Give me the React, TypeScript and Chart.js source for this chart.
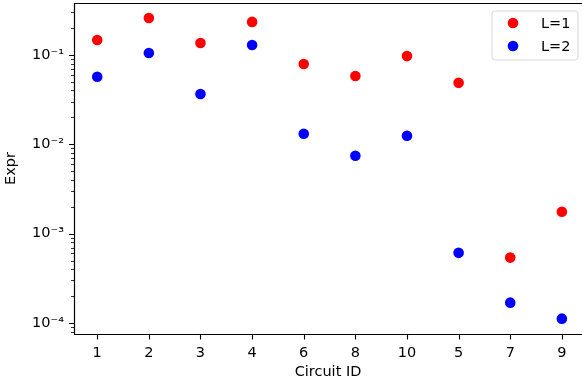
import React, { useEffect, useRef } from "react";
import { Chart, registerables } from "chart.js";

Chart.register(...registerables);

const categories = ["1", "2", "3", "4", "6", "8", "10", "5", "7", "9"];
const l1Values = [0.147, 0.259, 0.136, 0.234, 0.079, 0.058, 0.097, 0.0487, 0.00054, 0.00176];
const l2Values = [0.057, 0.105, 0.0366, 0.129, 0.0131, 0.00745, 0.01245, 0.00061, 0.000169, 0.000112];
const seriesLabels = ["L=1", "L=2"];
const yTickValues = [1e-4, 1e-3, 1e-2, 1e-1];
const yTickLabels = ["10⁻⁴", "10⁻³", "10⁻²", "10⁻¹"];
const xTitle = "Circuit ID";
const yTitle = "Expr";
const xMin = -0.45;
const xMax = 9.39; // the reference is cropped just before its right spine (at 9.45)
const yMin = 7.54e-5;
const yMax = 0.381;

const FONT = "DejaVu Sans";
const FS = 14.5;
const W = 582;
const H = 387;

const zeroPad = () => ({ left: 0, top: 0, right: 0, bottom: 0 });

const framePlugin = {
  id: "frame",
  afterDraw(chart: any) {
    const { ctx, chartArea: a, scales } = chart;
    const x = scales.x;
    const y = scales.y;
    ctx.save();
    ctx.strokeStyle = "#000";
    ctx.lineWidth = 1.2;
    ctx.beginPath();
    ctx.moveTo(W, a.top + 0.5);
    ctx.lineTo(a.left + 0.5, a.top + 0.5);
    ctx.lineTo(a.left + 0.5, a.bottom + 0.5);
    ctx.lineTo(W, a.bottom + 0.5);
    ctx.stroke();
    // x ticks
    ctx.lineWidth = 1.1;
    ctx.beginPath();
    categories.forEach((_, i) => {
      const px = Math.round(x.getPixelForValue(i)) + 0.5;
      ctx.moveTo(px, a.bottom);
      ctx.lineTo(px, a.bottom + 5.5);
    });
    ctx.stroke();
    // y major ticks
    ctx.beginPath();
    yTickValues.forEach((v) => {
      const py = Math.round(y.getPixelForValue(v)) + 0.5;
      ctx.moveTo(a.left, py);
      ctx.lineTo(a.left - 5, py);
    });
    ctx.stroke();
    // y minor ticks
    ctx.lineWidth = 0.8;
    ctx.beginPath();
    for (let d = -6; d <= 1; d++) {
      for (let k = 2; k <= 9; k++) {
        const v = k * Math.pow(10, d);
        if (v < y.min || v > y.max) continue;
        const py = Math.round(y.getPixelForValue(v)) + 0.5;
        ctx.moveTo(a.left, py);
        ctx.lineTo(a.left - 3, py);
      }
    }
    ctx.stroke();
    // legend
    const lx = 492, ly = 11, lw = 86, lh = 49, r = 3;
    ctx.beginPath();
    ctx.moveTo(lx + r, ly);
    ctx.lineTo(lx + lw - r, ly);
    ctx.quadraticCurveTo(lx + lw, ly, lx + lw, ly + r);
    ctx.lineTo(lx + lw, ly + lh - r);
    ctx.quadraticCurveTo(lx + lw, ly + lh, lx + lw - r, ly + lh);
    ctx.lineTo(lx + r, ly + lh);
    ctx.quadraticCurveTo(lx, ly + lh, lx, ly + lh - r);
    ctx.lineTo(lx, ly + r);
    ctx.quadraticCurveTo(lx, ly, lx + r, ly);
    ctx.closePath();
    ctx.fillStyle = "rgba(255,255,255,0.8)";
    ctx.fill();
    ctx.strokeStyle = "#d6d6d6";
    ctx.lineWidth = 1;
    ctx.stroke();
    const colors = ["#ff0000", "#0000ff"];
    seriesLabels.forEach((lab, i) => {
      const cy = 23 + i * 23;
      ctx.beginPath();
      ctx.arc(513, cy, 5.3, 0, Math.PI * 2);
      ctx.fillStyle = colors[i];
      ctx.fill();
      ctx.fillStyle = "#000";
      ctx.font = `${FS}px "${FONT}"`;
      ctx.textBaseline = "middle";
      ctx.textAlign = "left";
      ctx.fillText(lab, 541, cy + 1);
    });
    ctx.restore();
  },
};

export default function App() {
  const ref = useRef<HTMLCanvasElement>(null);
  useEffect(() => {
    document.body.style.margin = "0";
    document.body.style.overflow = "hidden";
    const canvas = ref.current!;
    const chart = new Chart(canvas, {
      type: "scatter",
      data: {
        datasets: [
          {
            label: seriesLabels[0],
            data: l1Values.map((v, i) => ({ x: i, y: v })),
            backgroundColor: "#ff0000",
            borderColor: "#ff0000",
            pointRadius: 5.3,
            borderWidth: 0,
          },
          {
            label: seriesLabels[1],
            data: l2Values.map((v, i) => ({ x: i, y: v })),
            backgroundColor: "#0000ff",
            borderColor: "#0000ff",
            pointRadius: 5.3,
            borderWidth: 0,
          },
        ],
      },
      options: {
        responsive: false,
        animation: false,
        devicePixelRatio: 1,
        layout: { autoPadding: false, padding: { left: 0, top: 3, right: 0, bottom: 0 } },
        plugins: {
          legend: { display: false },
          tooltip: { enabled: false },
        },
        scales: {
          x: {
            type: "linear",
            min: xMin,
            max: xMax,
            grid: { display: false, drawTicks: true, tickLength: 5 },
            border: { display: false },
            afterBuildTicks: (s: any) => {
              s.ticks = categories.map((_, i) => ({ value: i }));
            },
            afterFit: (s: any) => {
              s.height = 53;
              s.paddingLeft = 0;
              s.paddingRight = 0;
              s.getPadding = zeroPad;
            },
            ticks: {
              autoSkip: false,
              maxRotation: 0,
              padding: 6,
              color: "#000",
              font: { family: FONT, size: FS },
              callback: (v: any) => categories[Math.round(Number(v))],
            },
            title: {
              display: true,
              text: xTitle,
              color: "#000",
              font: { family: FONT, size: FS },
              padding: { top: 0, bottom: 6 },
            },
          },
          y: {
            type: "logarithmic",
            min: yMin,
            max: yMax,
            grid: { display: false, drawTicks: true, tickLength: 5 },
            border: { display: false },
            afterBuildTicks: (s: any) => {
              s.ticks = yTickValues.map((v) => ({ value: v }));
            },
            afterFit: (s: any) => {
              s.width = 74;
              s.paddingTop = 0;
              s.paddingBottom = 0;
              s.getPadding = zeroPad;
            },
            ticks: {
              autoSkip: false,
              padding: 5,
              color: "#000",
              font: { family: FONT, size: FS },
              callback: (v: any) => {
                const idx = yTickValues.findIndex((t) => Math.abs(t - Number(v)) / t < 1e-6);
                return idx >= 0 ? yTickLabels[idx] : "";
              },
            },
            title: {
              display: true,
              text: yTitle,
              color: "#000",
              font: { family: FONT, size: FS },
              padding: { top: 3, bottom: 0 },
            },
          },
        },
      },
      plugins: [framePlugin],
    } as any);
    return () => chart.destroy();
  }, []);
  return (
    <div style={{ width: W, height: H, overflow: "hidden" }}>
      <canvas ref={ref} width={W} height={H} style={{ display: "block" }} />
    </div>
  );
}
